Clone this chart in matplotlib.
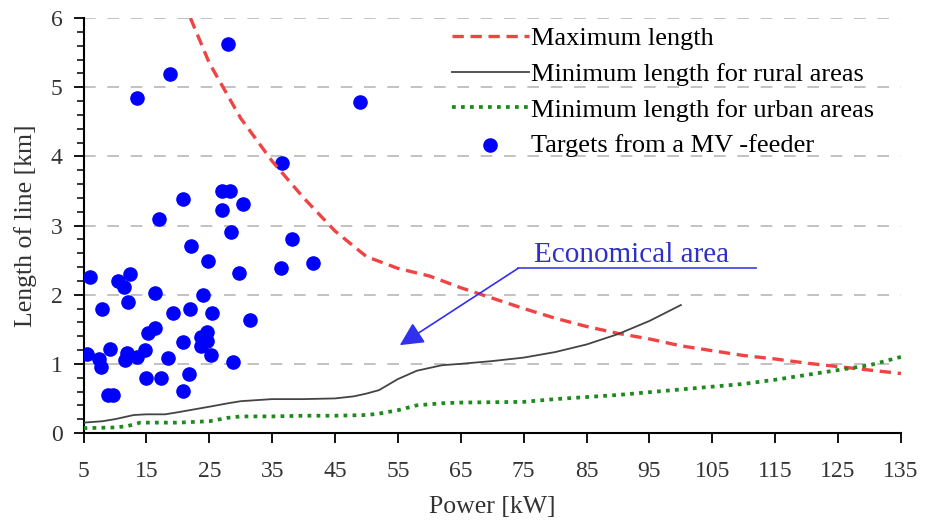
import matplotlib
matplotlib.use('Agg')
import matplotlib.pyplot as plt
import numpy as np
from matplotlib.ticker import MultipleLocator, FixedLocator

plt.rcParams['font.family'] = ['Liberation Serif', 'DejaVu Serif']

# maximum length curve
max_x = [22, 25, 30, 35, 40, 45, 50, 55, 60, 65, 70, 75, 80, 85, 90, 95, 100, 105, 110, 115, 120, 125, 130, 135]
max_y = [6.0, 5.35, 4.55, 3.93, 3.4, 2.92, 2.55, 2.38, 2.27, 2.1, 1.95, 1.8, 1.66, 1.54, 1.44, 1.36, 1.26, 1.19, 1.12, 1.07, 1.01, 0.96, 0.91, 0.86]

# minimum length, rural
rural_x = [5, 8, 10, 13, 15, 18, 20, 25, 28, 30, 35, 40, 45, 48, 50, 52, 55, 58, 62, 65, 70, 75, 80, 85, 90, 95, 100]
rural_y = [0.15, 0.17, 0.2, 0.26, 0.27, 0.27, 0.3, 0.38, 0.43, 0.46, 0.49, 0.49, 0.5, 0.53, 0.57, 0.62, 0.78, 0.9, 0.98, 1.0, 1.04, 1.09, 1.17, 1.28, 1.43, 1.62, 1.85]

# minimum length, urban
urban_x = [5, 10, 12, 14, 20, 25, 28, 30, 35, 40, 45, 50, 52, 55, 58, 62, 65, 75, 80, 85, 90, 95, 100, 105, 110, 115, 120, 125, 130, 135]
urban_y = [0.07, 0.08, 0.1, 0.15, 0.15, 0.17, 0.22, 0.24, 0.24, 0.25, 0.25, 0.26, 0.28, 0.33, 0.4, 0.43, 0.44, 0.45, 0.49, 0.52, 0.55, 0.59, 0.63, 0.67, 0.71, 0.77, 0.84, 0.91, 0.98, 1.1]

# targets from a MV-feeder
pts_x = [6.0, 10.5, 12.4, 11.4, 16.4, 24.0, 24.8, 29.8, 36.4,
         8.0, 12.1, 19.3, 22.0, 25.5, 31.4, 16.4, 15.3, 24.6, 23.7, 24.6, 23.7, 20.8, 25.3, 28.8,
         5.6, 7.4, 7.7, 9.2, 11.6, 11.9, 13.5, 14.8, 18.5, 15.0, 17.3, 21.8, 20.8, 8.9, 9.7,
         13.5, 18.8, 27.9, 49.0, 36.5, 38.1, 20.8, 27.0, 28.3, 30.4, 27.1, 17.0, 28.4, 22.1, 41.5]
pts_y = [2.26, 2.20, 2.30, 2.11, 2.03, 2.00, 2.49, 2.32, 2.38,
         1.80, 1.89, 1.74, 1.80, 1.74, 1.63, 1.52, 1.45, 1.46, 1.39, 1.33, 1.26, 1.31, 1.13, 1.02,
         1.14, 1.07, 0.96, 1.22, 1.06, 1.16, 1.10, 1.20, 1.08, 0.79, 0.79, 0.86, 0.61, 0.55, 0.55,
         4.84, 5.19, 5.63, 4.79, 3.91, 2.81, 3.39, 3.50, 3.50, 3.31, 3.22, 3.10, 2.91, 2.70, 2.46]

x_ticks = list(range(5, 136, 10))

# annotation
note_text = 'Economical area'
note_tip = (55.3, 1.27)
note_knee = (74.1, 2.38)
note_end_x = 112.0

fig = plt.figure(figsize=(9.25, 5.22), dpi=100)
ax = fig.add_axes([0.0903, 0.1705, 0.8837, 0.795])

ax.scatter(pts_x, pts_y, s=90, color='#0000ff', zorder=3, label='Targets from a MV -feeder')
l1, = ax.plot(max_x, max_y, color='#f04444', lw=2.4, dashes=(3.4, 2.0), label='Maximum length', zorder=4)
l2, = ax.plot(rural_x, rural_y, color='#444444', lw=1.3, label='Minimum length for rural areas', zorder=4)
l3, = ax.plot(urban_x, urban_y, color='#1d8a1d', lw=2.7, dashes=(1.0, 1.4), label='Minimum length for urban areas', zorder=4)
sc = ax.collections[0]

# annotation: horizontal line + arrow
ax.plot([note_knee[0], note_end_x], [note_knee[1], note_knee[1]], color='#4a4ae0', lw=1.3, zorder=5)
ax.annotate('', xy=note_tip, xytext=note_knee,
            arrowprops=dict(arrowstyle='-|>', color='#3030ee', lw=1.2, mutation_scale=36,
                            shrinkA=0, shrinkB=0), zorder=5)
ax.text(note_knee[0] + 2.6, note_knee[1] + 0.19, note_text, color='#3030c8', fontsize=21,
        ha='left', va='center')

ax.set_xlim(5, 135)
ax.set_ylim(0, 6)
ax.xaxis.set_major_locator(FixedLocator(x_ticks))
ax.yaxis.set_major_locator(MultipleLocator(1))
ax.yaxis.set_minor_locator(MultipleLocator(0.2))

for y in range(1, 7):
    ax.axhline(y, color='#b8b8b8', lw=1.2, dashes=(7, 7), zorder=1)

ax.spines['top'].set_visible(False)
ax.spines['right'].set_visible(False)
ax.spines['left'].set_linewidth(1.5)
ax.spines['bottom'].set_linewidth(1.5)
ax.tick_params(axis='both', which='major', direction='out', length=7, width=1.3, labelsize=17)
ax.tick_params(axis='x', which='major', pad=13)
ax.tick_params(axis='y', which='major', pad=8)
ax.tick_params(axis='y', which='minor', direction='out', length=5, width=1.1)

ax.set_xlabel('Power [kW]', fontsize=18.5, color='#333333', labelpad=10)
ax.set_ylabel('Length of line [km]', fontsize=18.5, color='#333333', labelpad=10)
for t in ax.get_xticklabels() + ax.get_yticklabels():
    t.set_color('#333333')

ax.legend(handles=[l1, l2, l3, sc], loc='upper left', frameon=False, fontsize=19,
          bbox_to_anchor=(452 / 925, 1 - 27 / 522), bbox_transform=fig.transFigure,
          borderpad=0, borderaxespad=0, handlelength=2.9, handletextpad=0.1,
          labelspacing=0.46, scatterpoints=1)

plt.savefig('out.png', dpi=100)
